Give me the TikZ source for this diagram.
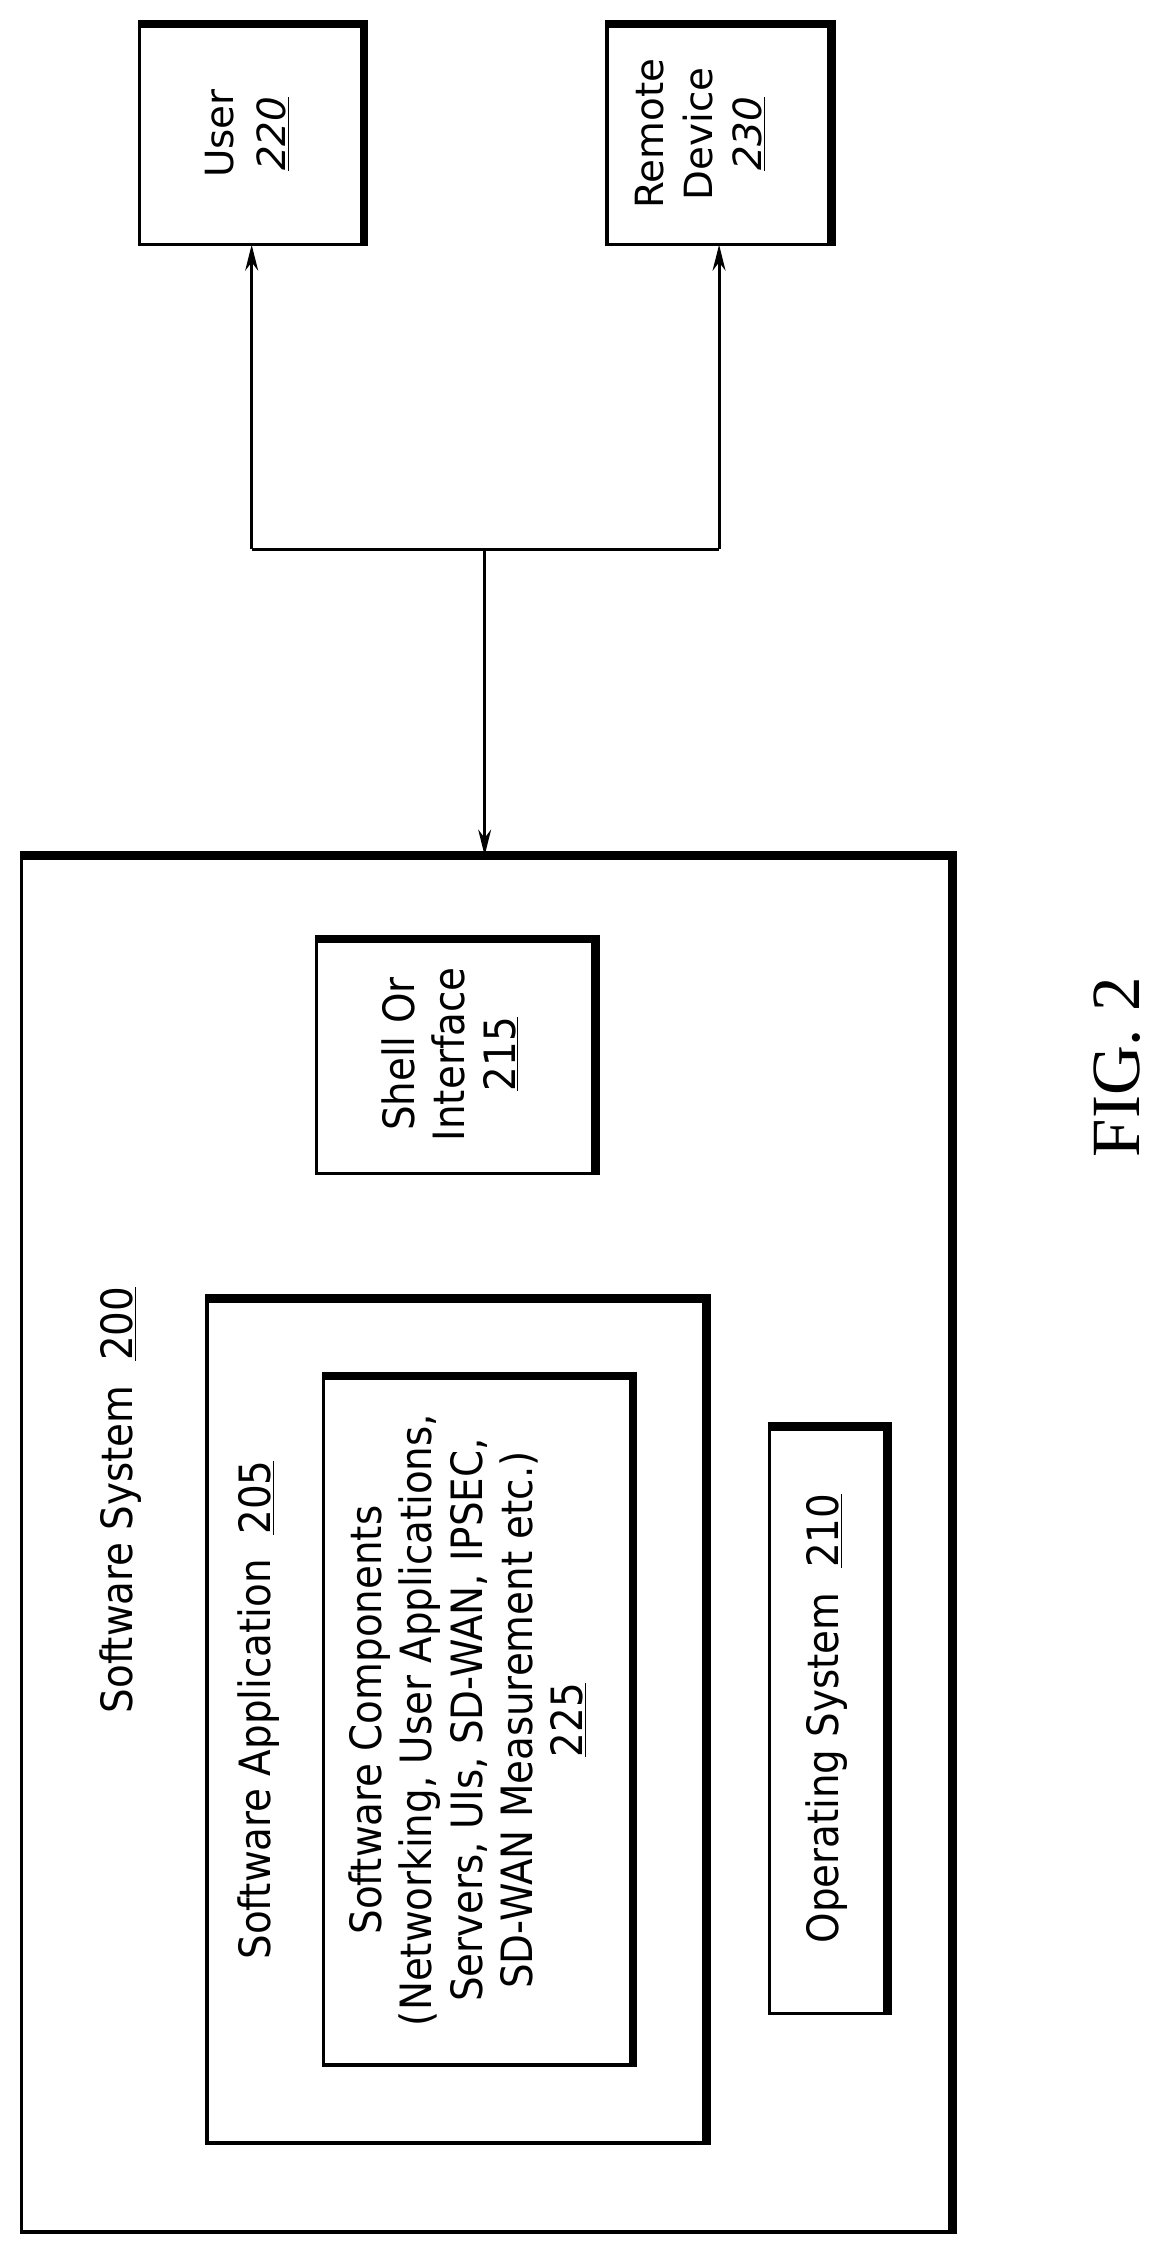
\documentclass[tikz,border=0pt]{standalone}
\usepackage{fontspec}
\setmainfont{DejaVu Sans Condensed}
\newfontfamily\wide{DejaVu Sans}
\newfontfamily\figfont{Liberation Serif}
\usetikzlibrary{arrows.meta}
\tikzset{
 box/.style={draw,line width=2.5pt,inner sep=0pt},
 lbl/.style={rotate=90,align=center,font=\fontsize{30}{35}\selectfont,inner sep=0pt},
 conn/.style={line width=2pt,-{Stealth[length=18pt,width=9pt]}},
 wire/.style={line width=2pt},
}
\newcommand{\boxat}[5]{% name, x1,y1,x2,y2
 \path[box] (#2,#3) rectangle (#4,#5);
 \node[minimum width=#4-#2, minimum height=#5-#3, inner sep=0pt] (#1) at ({(#2+#4)/2},{(#3+#5)/2}) {};
 \draw[line width=6pt] ([xshift=-1pt]#1.north west) -- ([xshift=3pt]#1.north east);
 \draw[line width=6pt] ([yshift=3pt]#1.north east) -- ([yshift=-1pt]#1.south east);
}
\begin{document}
\begin{tikzpicture}[x=1pt,y=-1pt]
\useasboundingbox (0,0) rectangle (808,1568);
\boxat{user}{97}{17}{253}{170}
\boxat{remote}{422}{17}{578}{170}
\boxat{sys}{15}{595}{662}{1552}
\boxat{shell}{220}{653}{414}{816}
\boxat{app}{144}{903}{491}{1490}
\boxat{comp}{225}{957}{440}{1436}
\boxat{os}{535}{992}{617}{1400}

\node[lbl,font=\wide\fontsize{27}{36}\selectfont] (tuser) at (172,93) {User\\\underline{\textit{220}}};
\node[lbl,font=\wide\fontsize{27}{34}\selectfont] (tremote) at (487,93) {Remote\\Device\\\underline{\textit{230}}};
\node[lbl] (tsys) at (84,1043) {Software System\ \ \underline{200}};
\node[lbl] (tapp) at (180,1189) {Software Application\ \ \underline{205}};
\node[lbl] (tcomp) at (325,1196) {Software Components\\(Networking, User Applications,\\Servers, UIs, SD-WAN, IPSEC,\\SD-WAN Measurement etc.)\\\underline{225}};
\node[lbl] (tshell) at (313,733) {Shell Or\\Interface\\\underline{215}};
\node[lbl] (tos) at (575,1195) {Operating System\ \ \underline{210}};
\node[rotate=90,font=\figfont\fontsize{48}{48}\selectfont] (fig) at (777,742) {FIG. 2};

\coordinate (j) at (337,382);
\coordinate (jl) at (user.south |- j);
\coordinate (jr) at (remote.south |- j);
\draw[wire] (jl) -- (jr);
\draw[conn] (jl) -- (user.south);
\draw[conn] (jr) -- (remote.south);
\draw[conn] (j) -- (j |- sys.north);
\end{tikzpicture}
\end{document}
